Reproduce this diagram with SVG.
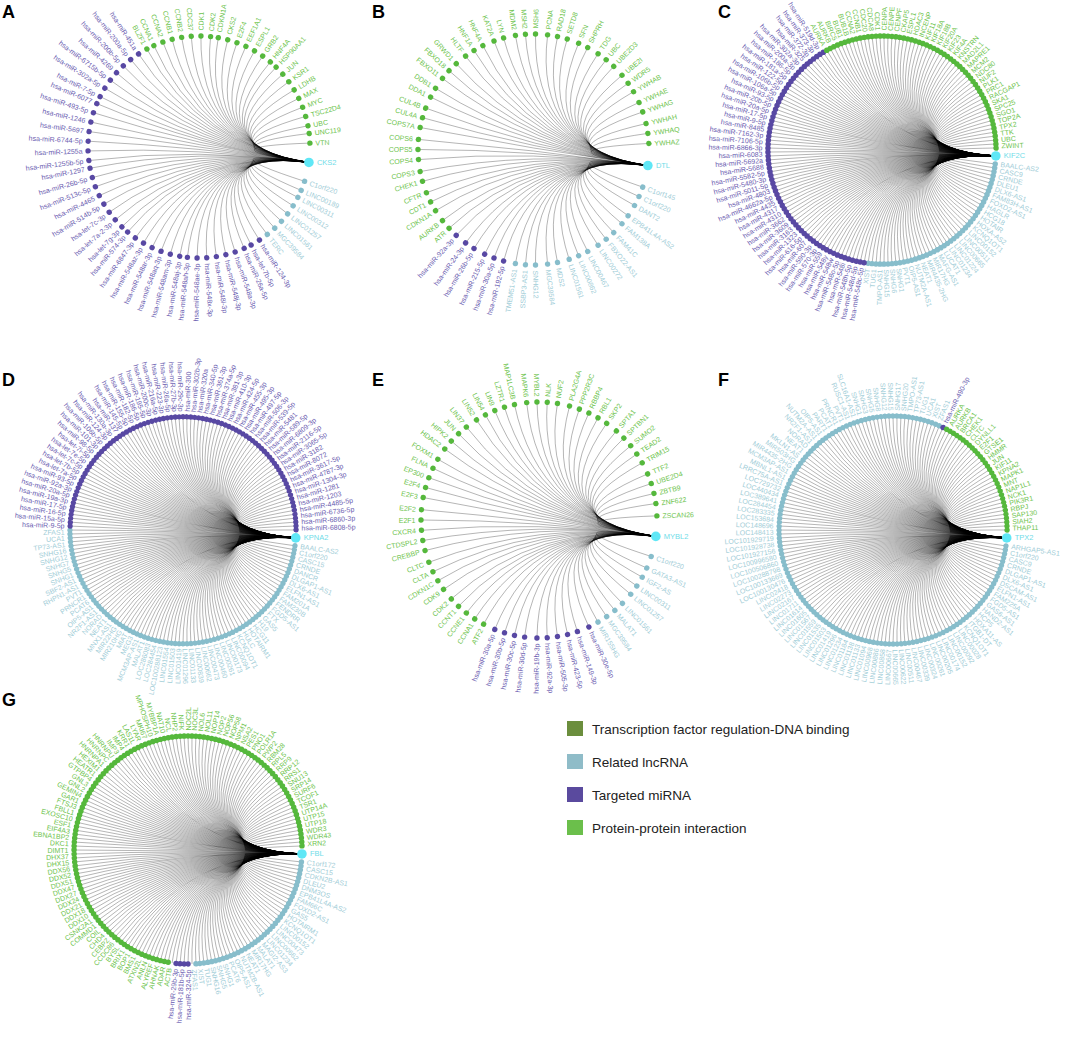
<svg xmlns="http://www.w3.org/2000/svg" width="1065" height="1063" viewBox="0 0 1065 1063">
<style>
text{font-family:"Liberation Sans",Arial,sans-serif;font-size:7px;dominant-baseline:central}
.ed path{fill:none;stroke:#000;stroke-opacity:.42;stroke-width:.7;vector-effect:non-scaling-stroke}
.g circle{fill:#55b83c}.g text{fill:#6cc34b}
.b circle{fill:#87bdcb}.b text{fill:#9fcdd7}
.p circle{fill:#5848a3}.p text{fill:#6a5cb0}
.l text{text-anchor:end}
.hub circle{fill:#5fe7f6}.hub text{fill:#6fdce8;font-size:7.5px}
.let{font-size:18px;font-weight:bold;dominant-baseline:auto;fill:#000}
.rg{fill:none;stroke-linecap:round;stroke-dasharray:0 2;stroke-width:4.8}
.leg text{font-size:13.5px;fill:#222}
</style>
<defs>
<g id="fan" class="ed">
<path d="M100 0Q0 0 99.8 7"/><path d="M100 0Q0 0 99.5 10.5"/><path d="M100 0Q0 0 99 13.9"/><path d="M100 0Q0 0 98.5 17.4"/><path d="M100 0Q0 0 97.8 20.8"/><path d="M100 0Q0 0 97 24.2"/><path d="M100 0Q0 0 96.1 27.6"/><path d="M100 0Q0 0 95.1 30.9"/><path d="M100 0Q0 0 94 34.2"/><path d="M100 0Q0 0 92.7 37.5"/><path d="M100 0Q0 0 91.4 40.7"/><path d="M100 0Q0 0 89.9 43.8"/><path d="M100 0Q0 0 88.3 46.9"/><path d="M100 0Q0 0 86.6 50"/><path d="M100 0Q0 0 84.8 53"/><path d="M100 0Q0 0 82.9 55.9"/><path d="M100 0Q0 0 80.9 58.8"/><path d="M100 0Q0 0 78.8 61.6"/><path d="M100 0Q0 0 76.6 64.3"/><path d="M100 0Q0 0 74.3 66.9"/><path d="M100 0Q0 0 71.9 69.5"/><path d="M100 0Q0 0 69.5 71.9"/><path d="M100 0Q0 0 66.9 74.3"/><path d="M100 0Q0 0 64.3 76.6"/><path d="M100 0Q0 0 61.6 78.8"/><path d="M100 0Q0 0 58.8 80.9"/><path d="M100 0Q0 0 55.9 82.9"/><path d="M100 0Q0 0 53 84.8"/><path d="M100 0Q0 0 50 86.6"/><path d="M100 0Q0 0 46.9 88.3"/><path d="M100 0Q0 0 43.8 89.9"/><path d="M100 0Q0 0 40.7 91.4"/><path d="M100 0Q0 0 37.5 92.7"/><path d="M100 0Q0 0 34.2 94"/><path d="M100 0Q0 0 30.9 95.1"/><path d="M100 0Q0 0 27.6 96.1"/><path d="M100 0Q0 0 24.2 97"/><path d="M100 0Q0 0 20.8 97.8"/><path d="M100 0Q0 0 17.4 98.5"/><path d="M100 0Q0 0 13.9 99"/><path d="M100 0Q0 0 10.5 99.5"/><path d="M100 0Q0 0 7 99.8"/><path d="M100 0Q0 0 3.5 99.9"/><path d="M100 0Q0 0 0 100"/><path d="M100 0Q0 0 -3.5 99.9"/><path d="M100 0Q0 0 -7 99.8"/><path d="M100 0Q0 0 -10.5 99.5"/><path d="M100 0Q0 0 -13.9 99"/><path d="M100 0Q0 0 -17.4 98.5"/><path d="M100 0Q0 0 -20.8 97.8"/><path d="M100 0Q0 0 -24.2 97"/><path d="M100 0Q0 0 -27.6 96.1"/><path d="M100 0Q0 0 -30.9 95.1"/><path d="M100 0Q0 0 -34.2 94"/><path d="M100 0Q0 0 -37.5 92.7"/><path d="M100 0Q0 0 -40.7 91.4"/><path d="M100 0Q0 0 -43.8 89.9"/><path d="M100 0Q0 0 -46.9 88.3"/><path d="M100 0Q0 0 -50 86.6"/><path d="M100 0Q0 0 -53 84.8"/><path d="M100 0Q0 0 -55.9 82.9"/><path d="M100 0Q0 0 -58.8 80.9"/><path d="M100 0Q0 0 -61.6 78.8"/><path d="M100 0Q0 0 -64.3 76.6"/><path d="M100 0Q0 0 -66.9 74.3"/><path d="M100 0Q0 0 -69.5 71.9"/><path d="M100 0Q0 0 -71.9 69.5"/><path d="M100 0Q0 0 -74.3 66.9"/><path d="M100 0Q0 0 -76.6 64.3"/><path d="M100 0Q0 0 -78.8 61.6"/><path d="M100 0Q0 0 -80.9 58.8"/><path d="M100 0Q0 0 -82.9 55.9"/><path d="M100 0Q0 0 -84.8 53"/><path d="M100 0Q0 0 -86.6 50"/><path d="M100 0Q0 0 -88.3 46.9"/><path d="M100 0Q0 0 -89.9 43.8"/><path d="M100 0Q0 0 -91.4 40.7"/><path d="M100 0Q0 0 -92.7 37.5"/><path d="M100 0Q0 0 -94 34.2"/><path d="M100 0Q0 0 -95.1 30.9"/><path d="M100 0Q0 0 -96.1 27.6"/><path d="M100 0Q0 0 -97 24.2"/><path d="M100 0Q0 0 -97.8 20.8"/><path d="M100 0Q0 0 -98.5 17.4"/><path d="M100 0Q0 0 -99 13.9"/><path d="M100 0Q0 0 -99.5 10.5"/><path d="M100 0Q0 0 -99.8 7"/><path d="M100 0Q0 0 -99.9 3.5"/><path d="M100 0Q0 0 -100 0"/>
<path d="M100 0Q0 0 99.8 -7"/><path d="M100 0Q0 0 99.5 -10.5"/><path d="M100 0Q0 0 99 -13.9"/><path d="M100 0Q0 0 98.5 -17.4"/><path d="M100 0Q0 0 97.8 -20.8"/><path d="M100 0Q0 0 97 -24.2"/><path d="M100 0Q0 0 96.1 -27.6"/><path d="M100 0Q0 0 95.1 -30.9"/><path d="M100 0Q0 0 94 -34.2"/><path d="M100 0Q0 0 92.7 -37.5"/><path d="M100 0Q0 0 91.4 -40.7"/><path d="M100 0Q0 0 89.9 -43.8"/><path d="M100 0Q0 0 88.3 -46.9"/><path d="M100 0Q0 0 86.6 -50"/><path d="M100 0Q0 0 84.8 -53"/><path d="M100 0Q0 0 82.9 -55.9"/><path d="M100 0Q0 0 80.9 -58.8"/><path d="M100 0Q0 0 78.8 -61.6"/><path d="M100 0Q0 0 76.6 -64.3"/><path d="M100 0Q0 0 74.3 -66.9"/><path d="M100 0Q0 0 71.9 -69.5"/><path d="M100 0Q0 0 69.5 -71.9"/><path d="M100 0Q0 0 66.9 -74.3"/><path d="M100 0Q0 0 64.3 -76.6"/><path d="M100 0Q0 0 61.6 -78.8"/><path d="M100 0Q0 0 58.8 -80.9"/><path d="M100 0Q0 0 55.9 -82.9"/><path d="M100 0Q0 0 53 -84.8"/><path d="M100 0Q0 0 50 -86.6"/><path d="M100 0Q0 0 46.9 -88.3"/><path d="M100 0Q0 0 43.8 -89.9"/><path d="M100 0Q0 0 40.7 -91.4"/><path d="M100 0Q0 0 37.5 -92.7"/><path d="M100 0Q0 0 34.2 -94"/><path d="M100 0Q0 0 30.9 -95.1"/><path d="M100 0Q0 0 27.6 -96.1"/><path d="M100 0Q0 0 24.2 -97"/><path d="M100 0Q0 0 20.8 -97.8"/><path d="M100 0Q0 0 17.4 -98.5"/><path d="M100 0Q0 0 13.9 -99"/><path d="M100 0Q0 0 10.5 -99.5"/><path d="M100 0Q0 0 7 -99.8"/><path d="M100 0Q0 0 3.5 -99.9"/><path d="M100 0Q0 0 0 -100"/><path d="M100 0Q0 0 -3.5 -99.9"/><path d="M100 0Q0 0 -7 -99.8"/><path d="M100 0Q0 0 -10.5 -99.5"/><path d="M100 0Q0 0 -13.9 -99"/><path d="M100 0Q0 0 -17.4 -98.5"/><path d="M100 0Q0 0 -20.8 -97.8"/><path d="M100 0Q0 0 -24.2 -97"/><path d="M100 0Q0 0 -27.6 -96.1"/><path d="M100 0Q0 0 -30.9 -95.1"/><path d="M100 0Q0 0 -34.2 -94"/><path d="M100 0Q0 0 -37.5 -92.7"/><path d="M100 0Q0 0 -40.7 -91.4"/><path d="M100 0Q0 0 -43.8 -89.9"/><path d="M100 0Q0 0 -46.9 -88.3"/><path d="M100 0Q0 0 -50 -86.6"/><path d="M100 0Q0 0 -53 -84.8"/><path d="M100 0Q0 0 -55.9 -82.9"/><path d="M100 0Q0 0 -58.8 -80.9"/><path d="M100 0Q0 0 -61.6 -78.8"/><path d="M100 0Q0 0 -64.3 -76.6"/><path d="M100 0Q0 0 -66.9 -74.3"/><path d="M100 0Q0 0 -69.5 -71.9"/><path d="M100 0Q0 0 -71.9 -69.5"/><path d="M100 0Q0 0 -74.3 -66.9"/><path d="M100 0Q0 0 -76.6 -64.3"/><path d="M100 0Q0 0 -78.8 -61.6"/><path d="M100 0Q0 0 -80.9 -58.8"/><path d="M100 0Q0 0 -82.9 -55.9"/><path d="M100 0Q0 0 -84.8 -53"/><path d="M100 0Q0 0 -86.6 -50"/><path d="M100 0Q0 0 -88.3 -46.9"/><path d="M100 0Q0 0 -89.9 -43.8"/><path d="M100 0Q0 0 -91.4 -40.7"/><path d="M100 0Q0 0 -92.7 -37.5"/><path d="M100 0Q0 0 -94 -34.2"/><path d="M100 0Q0 0 -95.1 -30.9"/><path d="M100 0Q0 0 -96.1 -27.6"/><path d="M100 0Q0 0 -97 -24.2"/><path d="M100 0Q0 0 -97.8 -20.8"/><path d="M100 0Q0 0 -98.5 -17.4"/><path d="M100 0Q0 0 -99 -13.9"/><path d="M100 0Q0 0 -99.5 -10.5"/><path d="M100 0Q0 0 -99.8 -7"/><path d="M100 0Q0 0 -99.9 -3.5"/>
</g>
</defs>
<rect width="1065" height="1063" fill="#fff"/>

<g id="letters">
<text x="2" y="18" class="let">A</text><text x="372" y="18" class="let">B</text><text x="718" y="18" class="let">C</text>
<text x="2" y="386" class="let">D</text><text x="372" y="386" class="let">E</text><text x="718" y="386" class="let">F</text>
<text x="2" y="706" class="let">G</text>
</g>

<!-- Panel A -->
<g id="panelA" transform="translate(199,147)rotate(8)">
<g id="A-edges" class="ed" transform="scale(1.11)">
<path d="M100 0Q0 0 98.5 17.4"/><path d="M100 0Q0 0 96.6 25.9"/><path d="M100 0Q0 0 94.6 32.6"/><path d="M100 0Q0 0 91.4 40.7"/><path d="M100 0Q0 0 87.5 48.5"/><path d="M100 0Q0 0 82.9 55.9"/><path d="M100 0Q0 0 77.7 62.9"/><path d="M100 0Q0 0 71.9 69.5"/><path d="M100 0Q0 0 65.6 75.5"/><path d="M100 0Q0 0 58.8 80.9"/><path d="M100 0Q0 0 53 84.8"/><path d="M100 0Q0 0 45.4 89.1"/><path d="M100 0Q0 0 37.5 92.7"/><path d="M100 0Q0 0 29.2 95.6"/><path d="M100 0Q0 0 20.8 97.8"/><path d="M100 0Q0 0 12.2 99.3"/><path d="M100 0Q0 0 3.5 99.9"/><path d="M100 0Q0 0 -3.5 99.9"/><path d="M100 0Q0 0 -12.2 99.3"/><path d="M100 0Q0 0 -20.8 97.8"/><path d="M100 0Q0 0 -29.2 95.6"/><path d="M100 0Q0 0 -37.5 92.7"/><path d="M100 0Q0 0 -45.4 89.1"/><path d="M100 0Q0 0 -53 84.8"/><path d="M100 0Q0 0 -58.8 80.9"/><path d="M100 0Q0 0 -65.6 75.5"/><path d="M100 0Q0 0 -71.9 69.5"/><path d="M100 0Q0 0 -77.7 62.9"/><path d="M100 0Q0 0 -82.9 55.9"/><path d="M100 0Q0 0 -87.5 48.5"/><path d="M100 0Q0 0 -91.4 40.7"/><path d="M100 0Q0 0 -94.6 32.6"/><path d="M100 0Q0 0 -96.6 25.9"/><path d="M100 0Q0 0 -98.5 17.4"/><path d="M100 0Q0 0 -99.6 8.7"/><path d="M100 0Q0 0 -100 0"/><path d="M100 0Q0 0 -99.6 -8.7"/><path d="M100 0Q0 0 -98.5 -17.4"/><path d="M100 0Q0 0 -96.6 -25.9"/><path d="M100 0Q0 0 -94.6 -32.6"/><path d="M100 0Q0 0 -91.4 -40.7"/><path d="M100 0Q0 0 -87.5 -48.5"/><path d="M100 0Q0 0 -82.9 -55.9"/><path d="M100 0Q0 0 -77.7 -62.9"/><path d="M100 0Q0 0 -71.9 -69.5"/><path d="M100 0Q0 0 -65.6 -75.5"/><path d="M100 0Q0 0 -58.8 -80.9"/><path d="M100 0Q0 0 -53 -84.8"/><path d="M100 0Q0 0 -45.4 -89.1"/><path d="M100 0Q0 0 -37.5 -92.7"/><path d="M100 0Q0 0 -29.2 -95.6"/><path d="M100 0Q0 0 -20.8 -97.8"/><path d="M100 0Q0 0 -12.2 -99.3"/><path d="M100 0Q0 0 -3.5 -99.9"/><path d="M100 0Q0 0 3.5 -99.9"/><path d="M100 0Q0 0 12.2 -99.3"/><path d="M100 0Q0 0 20.8 -97.8"/><path d="M100 0Q0 0 29.2 -95.6"/><path d="M100 0Q0 0 37.5 -92.7"/><path d="M100 0Q0 0 45.4 -89.1"/><path d="M100 0Q0 0 53 -84.8"/><path d="M100 0Q0 0 58.8 -80.9"/><path d="M100 0Q0 0 65.6 -75.5"/><path d="M100 0Q0 0 71.9 -69.5"/><path d="M100 0Q0 0 77.7 -62.9"/><path d="M100 0Q0 0 82.9 -55.9"/><path d="M100 0Q0 0 87.5 -48.5"/><path d="M100 0Q0 0 91.4 -40.7"/><path d="M100 0Q0 0 94.6 -32.6"/><path d="M100 0Q0 0 96.6 -25.9"/><path d="M100 0Q0 0 98.5 -17.4"/>
</g>
<g id="A1" class="b" transform="rotate(10)translate(111)"><circle r="2.7"/><text x="5.5">C1orf220</text></g>
<g id="A2" class="b" transform="rotate(15)translate(111)"><circle r="2.7"/><text x="5.5">LINC00189</text></g>
<g id="A3" class="b" transform="rotate(19)translate(111)"><circle r="2.7"/><text x="5.5">LINC00311</text></g>
<g id="A4" class="b" transform="rotate(24)translate(111)"><circle r="2.7"/><text x="5.5">LINC00312</text></g>
<g id="A5" class="b" transform="rotate(29)translate(111)"><circle r="2.7"/><text x="5.5">LINC01257</text></g>
<g id="A6" class="b" transform="rotate(34)translate(111)"><circle r="2.7"/><text x="5.5">LINC01561</text></g>
<g id="A7" class="b" transform="rotate(39)translate(111)"><circle r="2.7"/><text x="5.5">MGC39584</text></g>
<g id="A8" class="b" transform="rotate(44)translate(111)"><circle r="2.7"/><text x="5.5">TERC</text></g>
<g id="A9" class="p" transform="rotate(49)translate(111)"><circle r="2.7"/><text x="5.5">hsa-miR-124-3p</text></g>
<g id="A10" class="p" transform="rotate(54)translate(111)"><circle r="2.7"/><text x="5.5">hsa-let-7b-5p</text></g>
<g id="A11" class="p" transform="rotate(58)translate(111)"><circle r="2.7"/><text x="5.5">hsa-miR-26a-5p</text></g>
<g id="A12" class="p" transform="rotate(63)translate(111)"><circle r="2.7"/><text x="5.5">hsa-miR-548a-3p</text></g>
<g id="A13" class="p" transform="rotate(68)translate(111)"><circle r="2.7"/><text x="5.5">hsa-miR-548j-3p</text></g>
<g id="A14" class="p" transform="rotate(73)translate(111)"><circle r="2.7"/><text x="5.5">hsa-miR-548l-3p</text></g>
<g id="A15" class="p" transform="rotate(78)translate(111)"><circle r="2.7"/><text x="5.5">hsa-miR-548x-3p</text></g>
<g id="A16" class="p l" transform="rotate(-97)translate(-111)"><circle r="2.7"/><text x="-5.5">hsa-miR-548ae-3p</text></g>
<g id="A17" class="p l" transform="rotate(-92)translate(-111)"><circle r="2.7"/><text x="-5.5">hsa-miR-548ah-3p</text></g>
<g id="A18" class="p l" transform="rotate(-88)translate(-111)"><circle r="2.7"/><text x="-5.5">hsa-miR-548aj-3p</text></g>
<g id="A19" class="p l" transform="rotate(-83)translate(-111)"><circle r="2.7"/><text x="-5.5">hsa-miR-548am-3p</text></g>
<g id="A20" class="p l" transform="rotate(-78)translate(-111)"><circle r="2.7"/><text x="-5.5">hsa-miR-548aq-3p</text></g>
<g id="A21" class="p l" transform="rotate(-73)translate(-111)"><circle r="2.7"/><text x="-5.5">hsa-miR-548ar-3p</text></g>
<g id="A22" class="p l" transform="rotate(-68)translate(-111)"><circle r="2.7"/><text x="-5.5">hsa-miR-548az-3p</text></g>
<g id="A23" class="p l" transform="rotate(-63)translate(-111)"><circle r="2.7"/><text x="-5.5">hsa-miR-6847-3p</text></g>
<g id="A24" class="p l" transform="rotate(-58)translate(-111)"><circle r="2.7"/><text x="-5.5">hsa-miR-574-3p</text></g>
<g id="A25" class="p l" transform="rotate(-54)translate(-111)"><circle r="2.7"/><text x="-5.5">hsa-let-7g-3p</text></g>
<g id="A26" class="p l" transform="rotate(-49)translate(-111)"><circle r="2.7"/><text x="-5.5">hsa-let-7a-2-3p</text></g>
<g id="A27" class="p l" transform="rotate(-44)translate(-111)"><circle r="2.7"/><text x="-5.5">hsa-let-7c-3p</text></g>
<g id="A28" class="p l" transform="rotate(-39)translate(-111)"><circle r="2.7"/><text x="-5.5">hsa-miR-514b-5p</text></g>
<g id="A29" class="p l" transform="rotate(-34)translate(-111)"><circle r="2.7"/><text x="-5.5">hsa-miR-4465</text></g>
<g id="A30" class="p l" transform="rotate(-29)translate(-111)"><circle r="2.7"/><text x="-5.5">hsa-miR-513c-5p</text></g>
<g id="A31" class="p l" transform="rotate(-24)translate(-111)"><circle r="2.7"/><text x="-5.5">hsa-miR-26b-5p</text></g>
<g id="A32" class="p l" transform="rotate(-19)translate(-111)"><circle r="2.7"/><text x="-5.5">hsa-miR-1297</text></g>
<g id="A33" class="p l" transform="rotate(-15)translate(-111)"><circle r="2.7"/><text x="-5.5">hsa-miR-1255b-5p</text></g>
<g id="A34" class="p l" transform="rotate(-10)translate(-111)"><circle r="2.7"/><text x="-5.5">hsa-miR-1255a</text></g>
<g id="A35" class="p l" transform="rotate(-5)translate(-111)"><circle r="2.7"/><text x="-5.5">hsa-miR-6744-5p</text></g>
<g id="A36" class="p l" transform="rotate(0)translate(-111)"><circle r="2.7"/><text x="-5.5">hsa-miR-5697</text></g>
<g id="A37" class="p l" transform="rotate(5)translate(-111)"><circle r="2.7"/><text x="-5.5">hsa-miR-1246</text></g>
<g id="A38" class="p l" transform="rotate(10)translate(-111)"><circle r="2.7"/><text x="-5.5">hsa-miR-493-5p</text></g>
<g id="A39" class="p l" transform="rotate(15)translate(-111)"><circle r="2.7"/><text x="-5.5">hsa-miR-6077</text></g>
<g id="A40" class="p l" transform="rotate(19)translate(-111)"><circle r="2.7"/><text x="-5.5">hsa-miR-7-5p</text></g>
<g id="A41" class="p l" transform="rotate(24)translate(-111)"><circle r="2.7"/><text x="-5.5">hsa-miR-302a-5p</text></g>
<g id="A42" class="p l" transform="rotate(29)translate(-111)"><circle r="2.7"/><text x="-5.5">hsa-miR-6715b-5p</text></g>
<g id="A43" class="p l" transform="rotate(34)translate(-111)"><circle r="2.7"/><text x="-5.5">hsa-miR-4269</text></g>
<g id="A44" class="p l" transform="rotate(39)translate(-111)"><circle r="2.7"/><text x="-5.5">hsa-miR-200b-5p</text></g>
<g id="A45" class="p l" transform="rotate(44)translate(-111)"><circle r="2.7"/><text x="-5.5">hsa-miR-200a-5p</text></g>
<g id="A46" class="p l" transform="rotate(49)translate(-111)"><circle r="2.7"/><text x="-5.5">hsa-miR-451a</text></g>
<g id="A47" class="g l" transform="rotate(54)translate(-111)"><circle r="2.7"/><text x="-5.5">BLZF1</text></g>
<g id="A48" class="g l" transform="rotate(58)translate(-111)"><circle r="2.7"/><text x="-5.5">CCNA1</text></g>
<g id="A49" class="g l" transform="rotate(63)translate(-111)"><circle r="2.7"/><text x="-5.5">CCNA2</text></g>
<g id="A50" class="g l" transform="rotate(68)translate(-111)"><circle r="2.7"/><text x="-5.5">CCNB1</text></g>
<g id="A51" class="g l" transform="rotate(73)translate(-111)"><circle r="2.7"/><text x="-5.5">CCNB2</text></g>
<g id="A52" class="g l" transform="rotate(78)translate(-111)"><circle r="2.7"/><text x="-5.5">CDC37</text></g>
<g id="A53" class="g" transform="rotate(-97)translate(111)"><circle r="2.7"/><text x="5.5">CDK1</text></g>
<g id="A54" class="g" transform="rotate(-92)translate(111)"><circle r="2.7"/><text x="5.5">CDK2</text></g>
<g id="A55" class="g" transform="rotate(-88)translate(111)"><circle r="2.7"/><text x="5.5">CDKN1A</text></g>
<g id="A56" class="g" transform="rotate(-83)translate(111)"><circle r="2.7"/><text x="5.5">CKS2</text></g>
<g id="A57" class="g" transform="rotate(-78)translate(111)"><circle r="2.7"/><text x="5.5">E2F4</text></g>
<g id="A58" class="g" transform="rotate(-73)translate(111)"><circle r="2.7"/><text x="5.5">EEF1A1</text></g>
<g id="A59" class="g" transform="rotate(-68)translate(111)"><circle r="2.7"/><text x="5.5">ESPL1</text></g>
<g id="A60" class="g" transform="rotate(-63)translate(111)"><circle r="2.7"/><text x="5.5">GRB2</text></g>
<g id="A61" class="g" transform="rotate(-58)translate(111)"><circle r="2.7"/><text x="5.5">HNF4A</text></g>
<g id="A62" class="g" transform="rotate(-54)translate(111)"><circle r="2.7"/><text x="5.5">HSP90AA1</text></g>
<g id="A63" class="g" transform="rotate(-49)translate(111)"><circle r="2.7"/><text x="5.5">JUN</text></g>
<g id="A64" class="g" transform="rotate(-44)translate(111)"><circle r="2.7"/><text x="5.5">KSR1</text></g>
<g id="A65" class="g" transform="rotate(-39)translate(111)"><circle r="2.7"/><text x="5.5">LDHB</text></g>
<g id="A66" class="g" transform="rotate(-34)translate(111)"><circle r="2.7"/><text x="5.5">MAX</text></g>
<g id="A67" class="g" transform="rotate(-29)translate(111)"><circle r="2.7"/><text x="5.5">MYC</text></g>
<g id="A68" class="g" transform="rotate(-24)translate(111)"><circle r="2.7"/><text x="5.5">TSC22D4</text></g>
<g id="A69" class="g" transform="rotate(-19)translate(111)"><circle r="2.7"/><text x="5.5">UBC</text></g>
<g id="A70" class="g" transform="rotate(-15)translate(111)"><circle r="2.7"/><text x="5.5">UNC119</text></g>
<g id="A71" class="g" transform="rotate(-10)translate(111)"><circle r="2.7"/><text x="5.5">VTN</text></g>
<g id="A-hub" class="hub" transform="translate(111)rotate(-8)"><circle r="4.8"/><text x="8">CKS2</text></g>
</g>

<!-- Panel B -->
<g id="panelB" transform="translate(533.5,149.5)rotate(8)">
<g id="B-edges" class="ed" transform="scale(1.155)">
<path d="M100 0Q0 0 98.2 19.1"/><path d="M100 0Q0 0 96.1 27.6"/><path d="M100 0Q0 0 93.4 35.8"/><path d="M100 0Q0 0 89.1 45.4"/><path d="M100 0Q0 0 84.8 53"/><path d="M100 0Q0 0 78.8 61.6"/><path d="M100 0Q0 0 73.1 68.2"/><path d="M100 0Q0 0 66.9 74.3"/><path d="M100 0Q0 0 58.8 80.9"/><path d="M100 0Q0 0 51.5 85.7"/><path d="M100 0Q0 0 43.8 89.9"/><path d="M100 0Q0 0 34.2 94"/><path d="M100 0Q0 0 25.9 96.6"/><path d="M100 0Q0 0 15.6 98.8"/><path d="M100 0Q0 0 7 99.8"/><path d="M100 0Q0 0 -1.7 100"/><path d="M100 0Q0 0 -12.2 99.3"/><path d="M100 0Q0 0 -20.8 97.8"/><path d="M100 0Q0 0 -29.2 95.6"/><path d="M100 0Q0 0 -39.1 92.1"/><path d="M100 0Q0 0 -46.9 88.3"/><path d="M100 0Q0 0 -55.9 82.9"/><path d="M100 0Q0 0 -62.9 77.7"/><path d="M100 0Q0 0 -69.5 71.9"/><path d="M100 0Q0 0 -76.6 64.3"/><path d="M100 0Q0 0 -81.9 57.4"/><path d="M100 0Q0 0 -86.6 50"/><path d="M100 0Q0 0 -91.4 40.7"/><path d="M100 0Q0 0 -94.6 32.6"/><path d="M100 0Q0 0 -97.4 22.5"/><path d="M100 0Q0 0 -99 13.9"/><path d="M100 0Q0 0 -99.9 5.2"/><path d="M100 0Q0 0 -99.9 -5.2"/><path d="M100 0Q0 0 -99 -13.9"/><path d="M100 0Q0 0 -97.4 -22.5"/><path d="M100 0Q0 0 -94.6 -32.6"/><path d="M100 0Q0 0 -91.4 -40.7"/><path d="M100 0Q0 0 -86.6 -50"/><path d="M100 0Q0 0 -81.9 -57.4"/><path d="M100 0Q0 0 -76.6 -64.3"/><path d="M100 0Q0 0 -69.5 -71.9"/><path d="M100 0Q0 0 -62.9 -77.7"/><path d="M100 0Q0 0 -55.9 -82.9"/><path d="M100 0Q0 0 -46.9 -88.3"/><path d="M100 0Q0 0 -39.1 -92.1"/><path d="M100 0Q0 0 -29.2 -95.6"/><path d="M100 0Q0 0 -20.8 -97.8"/><path d="M100 0Q0 0 -12.2 -99.3"/><path d="M100 0Q0 0 -1.7 -100"/><path d="M100 0Q0 0 7 -99.8"/><path d="M100 0Q0 0 15.6 -98.8"/><path d="M100 0Q0 0 25.9 -96.6"/><path d="M100 0Q0 0 34.2 -94"/><path d="M100 0Q0 0 43.8 -89.9"/><path d="M100 0Q0 0 51.5 -85.7"/><path d="M100 0Q0 0 58.8 -80.9"/><path d="M100 0Q0 0 66.9 -74.3"/><path d="M100 0Q0 0 73.1 -68.2"/><path d="M100 0Q0 0 78.8 -61.6"/><path d="M100 0Q0 0 84.8 -53"/><path d="M100 0Q0 0 89.1 -45.4"/><path d="M100 0Q0 0 93.4 -35.8"/><path d="M100 0Q0 0 96.1 -27.6"/><path d="M100 0Q0 0 98.2 -19.1"/>
</g>
<g id="B1" class="b" transform="rotate(11)translate(115.5)"><circle r="2.7"/><text x="5.5">C1orf145</text></g>
<g id="B2" class="b" transform="rotate(16)translate(115.5)"><circle r="2.7"/><text x="5.5">C1orf220</text></g>
<g id="B3" class="b" transform="rotate(21)translate(115.5)"><circle r="2.7"/><text x="5.5">DANT2</text></g>
<g id="B4" class="b" transform="rotate(27)translate(115.5)"><circle r="2.7"/><text x="5.5">EPB41L4A-AS2</text></g>
<g id="B5" class="b" transform="rotate(32)translate(115.5)"><circle r="2.7"/><text x="5.5">FAM138A</text></g>
<g id="B6" class="b" transform="rotate(38)translate(115.5)"><circle r="2.7"/><text x="5.5">FAM41C</text></g>
<g id="B7" class="b" transform="rotate(43)translate(115.5)"><circle r="2.7"/><text x="5.5">FBXO22-AS1</text></g>
<g id="B8" class="b" transform="rotate(48)translate(115.5)"><circle r="2.7"/><text x="5.5">LINC00272</text></g>
<g id="B9" class="b" transform="rotate(54)translate(115.5)"><circle r="2.7"/><text x="5.5">LINC00467</text></g>
<g id="B10" class="b" transform="rotate(59)translate(115.5)"><circle r="2.7"/><text x="5.5">LINC00862</text></g>
<g id="B11" class="b" transform="rotate(64)translate(115.5)"><circle r="2.7"/><text x="5.5">LINC01561</text></g>
<g id="B12" class="b" transform="rotate(70)translate(115.5)"><circle r="2.7"/><text x="5.5">MDS2</text></g>
<g id="B13" class="b" transform="rotate(75)translate(115.5)"><circle r="2.7"/><text x="5.5">MGC39584</text></g>
<g id="B14" class="b" transform="rotate(81)translate(115.5)"><circle r="2.7"/><text x="5.5">SNHG12</text></g>
<g id="B15" class="b l" transform="rotate(-94)translate(-115.5)"><circle r="2.7"/><text x="-5.5">SSBP3-AS1</text></g>
<g id="B16" class="b l" transform="rotate(-89)translate(-115.5)"><circle r="2.7"/><text x="-5.5">TMEM51-AS1</text></g>
<g id="B17" class="p l" transform="rotate(-83)translate(-115.5)"><circle r="2.7"/><text x="-5.5">hsa-miR-192-5p</text></g>
<g id="B18" class="p l" transform="rotate(-78)translate(-115.5)"><circle r="2.7"/><text x="-5.5">hsa-miR-30a-5p</text></g>
<g id="B19" class="p l" transform="rotate(-73)translate(-115.5)"><circle r="2.7"/><text x="-5.5">hsa-miR-215-5p</text></g>
<g id="B20" class="p l" transform="rotate(-67)translate(-115.5)"><circle r="2.7"/><text x="-5.5">hsa-miR-26b-5p</text></g>
<g id="B21" class="p l" transform="rotate(-62)translate(-115.5)"><circle r="2.7"/><text x="-5.5">hsa-miR-24-3p</text></g>
<g id="B22" class="p l" transform="rotate(-56)translate(-115.5)"><circle r="2.7"/><text x="-5.5">hsa-miR-92a-3p</text></g>
<g id="B23" class="g l" transform="rotate(-51)translate(-115.5)"><circle r="2.7"/><text x="-5.5">ATR</text></g>
<g id="B24" class="g l" transform="rotate(-46)translate(-115.5)"><circle r="2.7"/><text x="-5.5">AURKB</text></g>
<g id="B25" class="g l" transform="rotate(-40)translate(-115.5)"><circle r="2.7"/><text x="-5.5">CDKN1A</text></g>
<g id="B26" class="g l" transform="rotate(-35)translate(-115.5)"><circle r="2.7"/><text x="-5.5">CDT1</text></g>
<g id="B27" class="g l" transform="rotate(-30)translate(-115.5)"><circle r="2.7"/><text x="-5.5">CFTR</text></g>
<g id="B28" class="g l" transform="rotate(-24)translate(-115.5)"><circle r="2.7"/><text x="-5.5">CHEK1</text></g>
<g id="B29" class="g l" transform="rotate(-19)translate(-115.5)"><circle r="2.7"/><text x="-5.5">COPS3</text></g>
<g id="B30" class="g l" transform="rotate(-13)translate(-115.5)"><circle r="2.7"/><text x="-5.5">COPS4</text></g>
<g id="B31" class="g l" transform="rotate(-8)translate(-115.5)"><circle r="2.7"/><text x="-5.5">COPS5</text></g>
<g id="B32" class="g l" transform="rotate(-3)translate(-115.5)"><circle r="2.7"/><text x="-5.5">COPS6</text></g>
<g id="B33" class="g l" transform="rotate(3)translate(-115.5)"><circle r="2.7"/><text x="-5.5">COPS7A</text></g>
<g id="B34" class="g l" transform="rotate(8)translate(-115.5)"><circle r="2.7"/><text x="-5.5">CUL4A</text></g>
<g id="B35" class="g l" transform="rotate(13)translate(-115.5)"><circle r="2.7"/><text x="-5.5">CUL4B</text></g>
<g id="B36" class="g l" transform="rotate(19)translate(-115.5)"><circle r="2.7"/><text x="-5.5">DDA1</text></g>
<g id="B37" class="g l" transform="rotate(24)translate(-115.5)"><circle r="2.7"/><text x="-5.5">DDB1</text></g>
<g id="B38" class="g l" transform="rotate(30)translate(-115.5)"><circle r="2.7"/><text x="-5.5">FBXO11</text></g>
<g id="B39" class="g l" transform="rotate(35)translate(-115.5)"><circle r="2.7"/><text x="-5.5">FBXO18</text></g>
<g id="B40" class="g l" transform="rotate(40)translate(-115.5)"><circle r="2.7"/><text x="-5.5">GRWD1</text></g>
<g id="B41" class="g l" transform="rotate(46)translate(-115.5)"><circle r="2.7"/><text x="-5.5">HLTF</text></g>
<g id="B42" class="g l" transform="rotate(51)translate(-115.5)"><circle r="2.7"/><text x="-5.5">HNF1A</text></g>
<g id="B43" class="g l" transform="rotate(56)translate(-115.5)"><circle r="2.7"/><text x="-5.5">HNF4A</text></g>
<g id="B44" class="g l" transform="rotate(62)translate(-115.5)"><circle r="2.7"/><text x="-5.5">KAT2A</text></g>
<g id="B45" class="g l" transform="rotate(67)translate(-115.5)"><circle r="2.7"/><text x="-5.5">LYN</text></g>
<g id="B46" class="g l" transform="rotate(73)translate(-115.5)"><circle r="2.7"/><text x="-5.5">MDM2</text></g>
<g id="B47" class="g l" transform="rotate(78)translate(-115.5)"><circle r="2.7"/><text x="-5.5">MSH2</text></g>
<g id="B48" class="g" transform="rotate(-97)translate(115.5)"><circle r="2.7"/><text x="5.5">MSH6</text></g>
<g id="B49" class="g" transform="rotate(-91)translate(115.5)"><circle r="2.7"/><text x="5.5">PCNA</text></g>
<g id="B50" class="g" transform="rotate(-86)translate(115.5)"><circle r="2.7"/><text x="5.5">RAD18</text></g>
<g id="B51" class="g" transform="rotate(-81)translate(115.5)"><circle r="2.7"/><text x="5.5">SETD8</text></g>
<g id="B52" class="g" transform="rotate(-75)translate(115.5)"><circle r="2.7"/><text x="5.5">SFN</text></g>
<g id="B53" class="g" transform="rotate(-70)translate(115.5)"><circle r="2.7"/><text x="5.5">SHPRH</text></g>
<g id="B54" class="g" transform="rotate(-64)translate(115.5)"><circle r="2.7"/><text x="5.5">TDG</text></g>
<g id="B55" class="g" transform="rotate(-59)translate(115.5)"><circle r="2.7"/><text x="5.5">UBC</text></g>
<g id="B56" class="g" transform="rotate(-54)translate(115.5)"><circle r="2.7"/><text x="5.5">UBE2D3</text></g>
<g id="B57" class="g" transform="rotate(-48)translate(115.5)"><circle r="2.7"/><text x="5.5">UBE2I</text></g>
<g id="B58" class="g" transform="rotate(-43)translate(115.5)"><circle r="2.7"/><text x="5.5">WDR5</text></g>
<g id="B59" class="g" transform="rotate(-38)translate(115.5)"><circle r="2.7"/><text x="5.5">YWHAB</text></g>
<g id="B60" class="g" transform="rotate(-32)translate(115.5)"><circle r="2.7"/><text x="5.5">YWHAE</text></g>
<g id="B61" class="g" transform="rotate(-27)translate(115.5)"><circle r="2.7"/><text x="5.5">YWHAG</text></g>
<g id="B62" class="g" transform="rotate(-21)translate(115.5)"><circle r="2.7"/><text x="5.5">YWHAH</text></g>
<g id="B63" class="g" transform="rotate(-16)translate(115.5)"><circle r="2.7"/><text x="5.5">YWHAQ</text></g>
<g id="B64" class="g" transform="rotate(-11)translate(115.5)"><circle r="2.7"/><text x="5.5">YWHAZ</text></g>
<g id="B-hub" class="hub" transform="translate(115.5)rotate(-8)"><circle r="4.8"/><text x="8">DTL</text></g>
</g>

<!-- Panel E -->
<g id="panelE" transform="translate(539,520)rotate(8)">
<g id="E-edges" class="ed" transform="scale(1.18)">
<path d="M100 0Q0 0 98.5 17.4"/><path d="M100 0Q0 0 96.1 27.6"/><path d="M100 0Q0 0 93.4 35.8"/><path d="M100 0Q0 0 89.9 43.8"/><path d="M100 0Q0 0 85.7 51.5"/><path d="M100 0Q0 0 79.9 60.2"/><path d="M100 0Q0 0 74.3 66.9"/><path d="M100 0Q0 0 68.2 73.1"/><path d="M100 0Q0 0 61.6 78.8"/><path d="M100 0Q0 0 54.5 83.9"/><path d="M100 0Q0 0 45.4 89.1"/><path d="M100 0Q0 0 37.5 92.7"/><path d="M100 0Q0 0 29.2 95.6"/><path d="M100 0Q0 0 20.8 97.8"/><path d="M100 0Q0 0 12.2 99.3"/><path d="M100 0Q0 0 1.7 100"/><path d="M100 0Q0 0 -7 99.8"/><path d="M100 0Q0 0 -15.6 98.8"/><path d="M100 0Q0 0 -24.2 97"/><path d="M100 0Q0 0 -34.2 94"/><path d="M100 0Q0 0 -42.3 90.6"/><path d="M100 0Q0 0 -50 86.6"/><path d="M100 0Q0 0 -57.4 81.9"/><path d="M100 0Q0 0 -64.3 76.6"/><path d="M100 0Q0 0 -71.9 69.5"/><path d="M100 0Q0 0 -77.7 62.9"/><path d="M100 0Q0 0 -82.9 55.9"/><path d="M100 0Q0 0 -87.5 48.5"/><path d="M100 0Q0 0 -92.1 39.1"/><path d="M100 0Q0 0 -95.1 30.9"/><path d="M100 0Q0 0 -97.4 22.5"/><path d="M100 0Q0 0 -99 13.9"/><path d="M100 0Q0 0 -99.9 5.2"/><path d="M100 0Q0 0 -99.9 -5.2"/><path d="M100 0Q0 0 -99 -13.9"/><path d="M100 0Q0 0 -97.4 -22.5"/><path d="M100 0Q0 0 -95.1 -30.9"/><path d="M100 0Q0 0 -92.1 -39.1"/><path d="M100 0Q0 0 -87.5 -48.5"/><path d="M100 0Q0 0 -82.9 -55.9"/><path d="M100 0Q0 0 -77.7 -62.9"/><path d="M100 0Q0 0 -71.9 -69.5"/><path d="M100 0Q0 0 -64.3 -76.6"/><path d="M100 0Q0 0 -57.4 -81.9"/><path d="M100 0Q0 0 -50 -86.6"/><path d="M100 0Q0 0 -42.3 -90.6"/><path d="M100 0Q0 0 -34.2 -94"/><path d="M100 0Q0 0 -24.2 -97"/><path d="M100 0Q0 0 -15.6 -98.8"/><path d="M100 0Q0 0 -7 -99.8"/><path d="M100 0Q0 0 1.7 -100"/><path d="M100 0Q0 0 12.2 -99.3"/><path d="M100 0Q0 0 20.8 -97.8"/><path d="M100 0Q0 0 29.2 -95.6"/><path d="M100 0Q0 0 37.5 -92.7"/><path d="M100 0Q0 0 45.4 -89.1"/><path d="M100 0Q0 0 54.5 -83.9"/><path d="M100 0Q0 0 61.6 -78.8"/><path d="M100 0Q0 0 68.2 -73.1"/><path d="M100 0Q0 0 74.3 -66.9"/><path d="M100 0Q0 0 79.9 -60.2"/><path d="M100 0Q0 0 85.7 -51.5"/><path d="M100 0Q0 0 89.9 -43.8"/><path d="M100 0Q0 0 93.4 -35.8"/><path d="M100 0Q0 0 96.1 -27.6"/><path d="M100 0Q0 0 98.5 -17.4"/>
</g>
<g id="E1" class="b" transform="rotate(10)translate(118)"><circle r="2.7"/><text x="5.5">C1orf220</text></g>
<g id="E2" class="b" transform="rotate(16)translate(118)"><circle r="2.7"/><text x="5.5">GATA3-AS1</text></g>
<g id="E3" class="b" transform="rotate(21)translate(118)"><circle r="2.7"/><text x="5.5">IGF2-AS</text></g>
<g id="E4" class="b" transform="rotate(26)translate(118)"><circle r="2.7"/><text x="5.5">LINC00311</text></g>
<g id="E5" class="b" transform="rotate(31)translate(118)"><circle r="2.7"/><text x="5.5">LINC01257</text></g>
<g id="E6" class="b" transform="rotate(37)translate(118)"><circle r="2.7"/><text x="5.5">LINC01561</text></g>
<g id="E7" class="b" transform="rotate(42)translate(118)"><circle r="2.7"/><text x="5.5">MALAT1</text></g>
<g id="E8" class="b" transform="rotate(47)translate(118)"><circle r="2.7"/><text x="5.5">MGC39584</text></g>
<g id="E9" class="b" transform="rotate(52)translate(118)"><circle r="2.7"/><text x="5.5">MIR155HG</text></g>
<g id="E10" class="p" transform="rotate(57)translate(118)"><circle r="2.7"/><text x="5.5">hsa-miR-30e-5p</text></g>
<g id="E11" class="p" transform="rotate(63)translate(118)"><circle r="2.7"/><text x="5.5">hsa-miR-149-3p</text></g>
<g id="E12" class="p" transform="rotate(68)translate(118)"><circle r="2.7"/><text x="5.5">hsa-miR-423-5p</text></g>
<g id="E13" class="p" transform="rotate(73)translate(118)"><circle r="2.7"/><text x="5.5">hsa-miR-505-3p</text></g>
<g id="E14" class="p" transform="rotate(78)translate(118)"><circle r="2.7"/><text x="5.5">hsa-miR-92a-3p</text></g>
<g id="E15" class="p l" transform="rotate(-97)translate(-118)"><circle r="2.7"/><text x="-5.5">hsa-miR-19b-3p</text></g>
<g id="E16" class="p l" transform="rotate(-91)translate(-118)"><circle r="2.7"/><text x="-5.5">hsa-miR-30d-5p</text></g>
<g id="E17" class="p l" transform="rotate(-86)translate(-118)"><circle r="2.7"/><text x="-5.5">hsa-miR-30c-5p</text></g>
<g id="E18" class="p l" transform="rotate(-81)translate(-118)"><circle r="2.7"/><text x="-5.5">hsa-miR-30b-5p</text></g>
<g id="E19" class="p l" transform="rotate(-76)translate(-118)"><circle r="2.7"/><text x="-5.5">hsa-miR-30a-5p</text></g>
<g id="E20" class="g l" transform="rotate(-70)translate(-118)"><circle r="2.7"/><text x="-5.5">ATF2</text></g>
<g id="E21" class="g l" transform="rotate(-65)translate(-118)"><circle r="2.7"/><text x="-5.5">CCNA1</text></g>
<g id="E22" class="g l" transform="rotate(-60)translate(-118)"><circle r="2.7"/><text x="-5.5">CCNE1</text></g>
<g id="E23" class="g l" transform="rotate(-55)translate(-118)"><circle r="2.7"/><text x="-5.5">CCNT1</text></g>
<g id="E24" class="g l" transform="rotate(-50)translate(-118)"><circle r="2.7"/><text x="-5.5">CDK2</text></g>
<g id="E25" class="g l" transform="rotate(-44)translate(-118)"><circle r="2.7"/><text x="-5.5">CDK9</text></g>
<g id="E26" class="g l" transform="rotate(-39)translate(-118)"><circle r="2.7"/><text x="-5.5">CDKN1C</text></g>
<g id="E27" class="g l" transform="rotate(-34)translate(-118)"><circle r="2.7"/><text x="-5.5">CLTA</text></g>
<g id="E28" class="g l" transform="rotate(-29)translate(-118)"><circle r="2.7"/><text x="-5.5">CLTC</text></g>
<g id="E29" class="g l" transform="rotate(-23)translate(-118)"><circle r="2.7"/><text x="-5.5">CREBBP</text></g>
<g id="E30" class="g l" transform="rotate(-18)translate(-118)"><circle r="2.7"/><text x="-5.5">CTDSPL2</text></g>
<g id="E31" class="g l" transform="rotate(-13)translate(-118)"><circle r="2.7"/><text x="-5.5">CXCR4</text></g>
<g id="E32" class="g l" transform="rotate(-8)translate(-118)"><circle r="2.7"/><text x="-5.5">E2F1</text></g>
<g id="E33" class="g l" transform="rotate(-3)translate(-118)"><circle r="2.7"/><text x="-5.5">E2F2</text></g>
<g id="E34" class="g l" transform="rotate(3)translate(-118)"><circle r="2.7"/><text x="-5.5">E2F3</text></g>
<g id="E35" class="g l" transform="rotate(8)translate(-118)"><circle r="2.7"/><text x="-5.5">E2F4</text></g>
<g id="E36" class="g l" transform="rotate(13)translate(-118)"><circle r="2.7"/><text x="-5.5">EP300</text></g>
<g id="E37" class="g l" transform="rotate(18)translate(-118)"><circle r="2.7"/><text x="-5.5">FLNA</text></g>
<g id="E38" class="g l" transform="rotate(23)translate(-118)"><circle r="2.7"/><text x="-5.5">FOXM1</text></g>
<g id="E39" class="g l" transform="rotate(29)translate(-118)"><circle r="2.7"/><text x="-5.5">HDAC2</text></g>
<g id="E40" class="g l" transform="rotate(34)translate(-118)"><circle r="2.7"/><text x="-5.5">HIPK2</text></g>
<g id="E41" class="g l" transform="rotate(39)translate(-118)"><circle r="2.7"/><text x="-5.5">JUN</text></g>
<g id="E42" class="g l" transform="rotate(44)translate(-118)"><circle r="2.7"/><text x="-5.5">LIN37</text></g>
<g id="E43" class="g l" transform="rotate(50)translate(-118)"><circle r="2.7"/><text x="-5.5">LIN52</text></g>
<g id="E44" class="g l" transform="rotate(55)translate(-118)"><circle r="2.7"/><text x="-5.5">LIN54</text></g>
<g id="E45" class="g l" transform="rotate(60)translate(-118)"><circle r="2.7"/><text x="-5.5">LIN9</text></g>
<g id="E46" class="g l" transform="rotate(65)translate(-118)"><circle r="2.7"/><text x="-5.5">LZTR1</text></g>
<g id="E47" class="g l" transform="rotate(70)translate(-118)"><circle r="2.7"/><text x="-5.5">MAP1LC3B</text></g>
<g id="E48" class="g l" transform="rotate(76)translate(-118)"><circle r="2.7"/><text x="-5.5">MAPK6</text></g>
<g id="E49" class="g l" transform="rotate(81)translate(-118)"><circle r="2.7"/><text x="-5.5">MYBL2</text></g>
<g id="E50" class="g" transform="rotate(-94)translate(118)"><circle r="2.7"/><text x="5.5">NLK</text></g>
<g id="E51" class="g" transform="rotate(-89)translate(118)"><circle r="2.7"/><text x="5.5">NUF2</text></g>
<g id="E52" class="g" transform="rotate(-83)translate(118)"><circle r="2.7"/><text x="5.5">PLA2G4A</text></g>
<g id="E53" class="g" transform="rotate(-78)translate(118)"><circle r="2.7"/><text x="5.5">PPP2R3C</text></g>
<g id="E54" class="g" transform="rotate(-73)translate(118)"><circle r="2.7"/><text x="5.5">RBBP4</text></g>
<g id="E55" class="g" transform="rotate(-68)translate(118)"><circle r="2.7"/><text x="5.5">RBL1</text></g>
<g id="E56" class="g" transform="rotate(-63)translate(118)"><circle r="2.7"/><text x="5.5">SKP2</text></g>
<g id="E57" class="g" transform="rotate(-57)translate(118)"><circle r="2.7"/><text x="5.5">SPTA1</text></g>
<g id="E58" class="g" transform="rotate(-52)translate(118)"><circle r="2.7"/><text x="5.5">SPTBN1</text></g>
<g id="E59" class="g" transform="rotate(-47)translate(118)"><circle r="2.7"/><text x="5.5">SUMO2</text></g>
<g id="E60" class="g" transform="rotate(-42)translate(118)"><circle r="2.7"/><text x="5.5">TEAD2</text></g>
<g id="E61" class="g" transform="rotate(-37)translate(118)"><circle r="2.7"/><text x="5.5">TRIM15</text></g>
<g id="E62" class="g" transform="rotate(-31)translate(118)"><circle r="2.7"/><text x="5.5">TTF2</text></g>
<g id="E63" class="g" transform="rotate(-26)translate(118)"><circle r="2.7"/><text x="5.5">UBE2D4</text></g>
<g id="E64" class="g" transform="rotate(-21)translate(118)"><circle r="2.7"/><text x="5.5">ZBTB9</text></g>
<g id="E65" class="g" transform="rotate(-16)translate(118)"><circle r="2.7"/><text x="5.5">ZNF622</text></g>
<g id="E66" class="g" transform="rotate(-10)translate(118)"><circle r="2.7"/><text x="5.5">ZSCAN26</text></g>
<g id="E-hub" class="hub" transform="translate(118)rotate(-8)"><circle r="4.8"/><text x="8">MYBL2</text></g>
</g>

<!-- Panel C -->
<g id="panelC" transform="translate(882,150)rotate(3)">
<use id="C-edges" href="#fan" transform="scale(1.14)"/>
<g id="C-nodes" transform="scale(1.14)">
<path class="rg" stroke="#87bdcb" pathLength="90" d="M99.8 7A100 100 0 0 1 -7 99.8"/>
<path class="rg" stroke="#5848a3" pathLength="140" d="M-10.5 99.5A100 100 0 0 1 -55.9 -82.9"/>
<path class="rg" stroke="#55b83c" pathLength="118" d="M-53 -84.8A100 100 0 0 1 99.8 -7"/>
</g>
<g id="C-labels">
<g class="b">
<text transform="rotate(4)" x="119.5">BAALC-AS2</text><text transform="rotate(7)" x="119.5">CASC9</text><text transform="rotate(10)" x="119.5">CRNDE</text><text transform="rotate(13)" x="119.5">DLEU1</text><text transform="rotate(16)" x="119.5">DLX6-AS1</text><text transform="rotate(19)" x="119.5">FAM83H-AS1</text><text transform="rotate(22)" x="119.5">FOXD2-AS1</text><text transform="rotate(25)" x="119.5">HAGLR</text><text transform="rotate(28)" x="119.5">HCG18</text><text transform="rotate(31)" x="119.5">HOTAIR</text><text transform="rotate(34)" x="119.5">HOXA-AS2</text><text transform="rotate(37)" x="119.5">KCNQ1OT1</text><text transform="rotate(40)" x="119.5">LINC00152</text><text transform="rotate(43)" x="119.5">LINC00511</text><text transform="rotate(46)" x="119.5">LINC00665</text><text transform="rotate(49)" x="119.5">LINC01224</text><text transform="rotate(52)" x="119.5">LINC01234</text><text transform="rotate(55)" x="119.5">LUCAT1</text><text transform="rotate(58)" x="119.5">MAFG-AS1</text><text transform="rotate(61)" x="119.5">MIR17HG</text><text transform="rotate(64)" x="119.5">MIR4435-2HG</text><text transform="rotate(67)" x="119.5">NEAT1</text><text transform="rotate(70)" x="119.5">NUTM2A-AS1</text><text transform="rotate(73)" x="119.5">OIP5-AS1</text><text transform="rotate(76)" x="119.5">PVT1</text><text transform="rotate(79)" x="119.5">SNHG1</text><text transform="rotate(82)" x="119.5">SNHG6</text><text transform="rotate(85)" x="119.5">SNHG15</text>
</g>
<g class="b l"><text transform="rotate(-92)" x="-119.5">TMPO-AS1</text><text transform="rotate(-89)" x="-119.5">TUG1</text><text transform="rotate(-86)" x="-119.5">XIST</text></g>
<g class="p l">
<text transform="rotate(-83)" x="-119.5">hsa-miR-548c-5p</text><text transform="rotate(-80)" x="-119.5">hsa-miR-548d-5p</text><text transform="rotate(-77)" x="-119.5">hsa-miR-548h-5p</text><text transform="rotate(-74)" x="-119.5">hsa-miR-548i</text><text transform="rotate(-71)" x="-119.5">hsa-miR-548o-5p</text><text transform="rotate(-68)" x="-119.5">hsa-miR-548w</text><text transform="rotate(-65)" x="-119.5">hsa-miR-548y</text><text transform="rotate(-62)" x="-119.5">hsa-miR-559</text><text transform="rotate(-59)" x="-119.5">hsa-miR-570-3p</text><text transform="rotate(-56)" x="-119.5">hsa-miR-590-3p</text><text transform="rotate(-53)" x="-119.5">hsa-miR-607</text><text transform="rotate(-50)" x="-119.5">hsa-miR-616-5p</text><text transform="rotate(-47)" x="-119.5">hsa-miR-1323</text><text transform="rotate(-44)" x="-119.5">hsa-miR-3163</text><text transform="rotate(-41)" x="-119.5">hsa-miR-3609</text><text transform="rotate(-38)" x="-119.5">hsa-miR-3662</text><text transform="rotate(-35)" x="-119.5">hsa-miR-4310</text><text transform="rotate(-32)" x="-119.5">hsa-miR-4317</text><text transform="rotate(-29)" x="-119.5">hsa-miR-4435</text><text transform="rotate(-26)" x="-119.5">hsa-miR-4662a-5p</text><text transform="rotate(-23)" x="-119.5">hsa-miR-4803</text><text transform="rotate(-20)" x="-119.5">hsa-miR-5011-5p</text><text transform="rotate(-17)" x="-119.5">hsa-miR-5480-3p</text><text transform="rotate(-14)" x="-119.5">hsa-miR-5582-5p</text><text transform="rotate(-11)" x="-119.5">hsa-miR-5688</text><text transform="rotate(-8)" x="-119.5">hsa-miR-5692a</text><text transform="rotate(-5)" x="-119.5">hsa-miR-6083</text><text transform="rotate(-2)" x="-119.5">hsa-miR-6866-3p</text><text transform="rotate(1)" x="-119.5">hsa-miR-7106-5p</text><text transform="rotate(4)" x="-119.5">hsa-miR-7162-3p</text><text transform="rotate(7)" x="-119.5">hsa-miR-8485</text><text transform="rotate(10)" x="-119.5">hsa-miR-9-5p</text><text transform="rotate(13)" x="-119.5">hsa-miR-17-5p</text><text transform="rotate(16)" x="-119.5">hsa-miR-20a-5p</text><text transform="rotate(19)" x="-119.5">hsa-miR-20b-5p</text><text transform="rotate(22)" x="-119.5">hsa-miR-93-5p</text><text transform="rotate(25)" x="-119.5">hsa-miR-106a-5p</text><text transform="rotate(28)" x="-119.5">hsa-miR-106b-5p</text><text transform="rotate(31)" x="-119.5">hsa-miR-122-5p</text><text transform="rotate(34)" x="-119.5">hsa-miR-181a-5p</text><text transform="rotate(37)" x="-119.5">hsa-miR-186-5p</text><text transform="rotate(40)" x="-119.5">hsa-miR-200a-3p</text><text transform="rotate(43)" x="-119.5">hsa-miR-302a-3p</text><text transform="rotate(46)" x="-119.5">hsa-miR-325</text><text transform="rotate(49)" x="-119.5">hsa-miR-372-3p</text><text transform="rotate(52)" x="-119.5">hsa-miR-373-3p</text><text transform="rotate(55)" x="-119.5">hsa-miR-519d-3p</text>
</g>
<g class="g">
<g class="l"><text transform="rotate(58)" x="-119.5">AURKA</text><text transform="rotate(61)" x="-119.5">AURKB</text><text transform="rotate(64)" x="-119.5">BIRC5</text><text transform="rotate(67)" x="-119.5">BUB1</text><text transform="rotate(70)" x="-119.5">BUB1B</text><text transform="rotate(73)" x="-119.5">CCNA2</text><text transform="rotate(76)" x="-119.5">CCNB1</text><text transform="rotate(79)" x="-119.5">CDC20</text><text transform="rotate(82)" x="-119.5">CDCA8</text><text transform="rotate(85)" x="-119.5">CDK1</text></g>
<text transform="rotate(-92)" x="119.5">CENPA</text><text transform="rotate(-89)" x="119.5">CENPE</text><text transform="rotate(-86)" x="119.5">CENPF</text><text transform="rotate(-83)" x="119.5">CKAP5</text><text transform="rotate(-80)" x="119.5">ESPL1</text><text transform="rotate(-77)" x="119.5">HDAC3</text><text transform="rotate(-74)" x="119.5">INCENP</text><text transform="rotate(-71)" x="119.5">KIF11</text><text transform="rotate(-68)" x="119.5">KIF18A</text><text transform="rotate(-65)" x="119.5">KIF18B</text><text transform="rotate(-62)" x="119.5">KIF20A</text><text transform="rotate(-59)" x="119.5">KIF23</text><text transform="rotate(-56)" x="119.5">KIF4A</text><text transform="rotate(-53)" x="119.5">KNSTRN</text><text transform="rotate(-50)" x="119.5">MAD2L1</text><text transform="rotate(-47)" x="119.5">MAPRE1</text><text transform="rotate(-44)" x="119.5">MCM2</text><text transform="rotate(-41)" x="119.5">NDC80</text><text transform="rotate(-38)" x="119.5">NUF2</text><text transform="rotate(-35)" x="119.5">PLK1</text><text transform="rotate(-32)" x="119.5">PRC1</text><text transform="rotate(-29)" x="119.5">RACGAP1</text><text transform="rotate(-26)" x="119.5">SKA1</text><text transform="rotate(-23)" x="119.5">SPC25</text><text transform="rotate(-20)" x="119.5">SGO1</text><text transform="rotate(-17)" x="119.5">TOP2A</text><text transform="rotate(-14)" x="119.5">TPX2</text><text transform="rotate(-11)" x="119.5">TTK</text><text transform="rotate(-8)" x="119.5">UBC</text><text transform="rotate(-5)" x="119.5">ZWINT</text>
</g>
</g>
<g id="C-hub" class="hub" transform="translate(114)rotate(-3)"><circle r="4.8"/><text x="8">KIF2C</text></g>
</g>

<!-- Panel D -->
<g id="panelD" transform="translate(183,530)rotate(4)">
<use id="D-edges" href="#fan" transform="scale(1.13)"/>
<g id="D-nodes" transform="scale(1.13)">
<path class="rg" stroke="#87bdcb" pathLength="172" d="M99.8 7A100 100 0 0 1 -99.8 7"/>
<path class="rg" stroke="#5848a3" pathLength="178" d="M-99.9 3.5A100 100 0 0 1 99.8 -7"/>
</g>
<g id="D-labels">
<g class="b">
<text transform="rotate(4)" x="118.5">BAALC-AS2</text><text transform="rotate(7)" x="118.5">C1orf220</text><text transform="rotate(10)" x="118.5">CASC15</text><text transform="rotate(13)" x="118.5">CRNDE</text><text transform="rotate(16)" x="118.5">DANCR</text><text transform="rotate(19)" x="118.5">DLGAP1-AS1</text><text transform="rotate(22)" x="118.5">DLX6-AS1</text><text transform="rotate(25)" x="118.5">ELFN1-AS1</text><text transform="rotate(28)" x="118.5">FAM201A</text><text transform="rotate(31)" x="118.5">FAM230B</text><text transform="rotate(34)" x="118.5">FENDRR</text><text transform="rotate(37)" x="118.5">FGD5-AS1</text><text transform="rotate(40)" x="118.5">FTX</text><text transform="rotate(43)" x="118.5">GAS5</text><text transform="rotate(46)" x="118.5">H19</text><text transform="rotate(49)" x="118.5">HCG11</text><text transform="rotate(52)" x="118.5">HOTAIRM1</text><text transform="rotate(55)" x="118.5">HULC</text><text transform="rotate(58)" x="118.5">KCNQ1OT1</text><text transform="rotate(61)" x="118.5">LINC00094</text><text transform="rotate(64)" x="118.5">LINC00173</text><text transform="rotate(67)" x="118.5">LINC00261</text><text transform="rotate(70)" x="118.5">LINC00460</text><text transform="rotate(73)" x="118.5">LINC00473</text><text transform="rotate(76)" x="118.5">LINC00662</text><text transform="rotate(79)" x="118.5">LINC00839</text><text transform="rotate(82)" x="118.5">LINC01133</text><text transform="rotate(85)" x="118.5">LINC01296</text>
<g class="l"><text transform="rotate(-92)" x="-118.5">LINC01419</text><text transform="rotate(-89)" x="-118.5">LINC01503</text><text transform="rotate(-86)" x="-118.5">LINC01554</text><text transform="rotate(-83)" x="-118.5">LOC100288123</text><text transform="rotate(-80)" x="-118.5">LOC284454</text><text transform="rotate(-77)" x="-118.5">LOC286083</text><text transform="rotate(-74)" x="-118.5">MALAT1</text><text transform="rotate(-71)" x="-118.5">MCM3AP-AS1</text><text transform="rotate(-68)" x="-118.5">MEG3</text><text transform="rotate(-65)" x="-118.5">MIAT</text><text transform="rotate(-62)" x="-118.5">MIR210HG</text><text transform="rotate(-59)" x="-118.5">MIR22HG</text><text transform="rotate(-56)" x="-118.5">MNX1-AS1</text><text transform="rotate(-53)" x="-118.5">NEAT1</text><text transform="rotate(-50)" x="-118.5">NORAD</text><text transform="rotate(-47)" x="-118.5">NR2F1-AS1</text><text transform="rotate(-44)" x="-118.5">OIP5-AS1</text><text transform="rotate(-41)" x="-118.5">PCAT6</text><text transform="rotate(-38)" x="-118.5">PRNCR1</text><text transform="rotate(-35)" x="-118.5">PVT1</text><text transform="rotate(-32)" x="-118.5">RHPN1-AS1</text><text transform="rotate(-29)" x="-118.5">SBF2-AS1</text><text transform="rotate(-26)" x="-118.5">SNHG1</text><text transform="rotate(-23)" x="-118.5">SNHG5</text><text transform="rotate(-20)" x="-118.5">SNHG7</text><text transform="rotate(-17)" x="-118.5">SNHG12</text><text transform="rotate(-14)" x="-118.5">SNHG16</text><text transform="rotate(-11)" x="-118.5">TP73-AS1</text><text transform="rotate(-8)" x="-118.5">UCA1</text><text transform="rotate(-5)" x="-118.5">ZFAS1</text></g>
</g>
<g class="p">
<g class="l"><text transform="rotate(-2)" x="-118.5">hsa-miR-9-5p</text><text transform="rotate(1)" x="-118.5">hsa-miR-15a-5p</text><text transform="rotate(4)" x="-118.5">hsa-miR-16-5p</text><text transform="rotate(7)" x="-118.5">hsa-miR-17-5p</text><text transform="rotate(10)" x="-118.5">hsa-miR-19a-3p</text><text transform="rotate(13)" x="-118.5">hsa-miR-20a-5p</text><text transform="rotate(16)" x="-118.5">hsa-miR-92a-3p</text><text transform="rotate(19)" x="-118.5">hsa-miR-93-5p</text><text transform="rotate(22)" x="-118.5">hsa-let-7a-5p</text><text transform="rotate(25)" x="-118.5">hsa-let-7b-5p</text><text transform="rotate(28)" x="-118.5">hsa-let-7c-5p</text><text transform="rotate(31)" x="-118.5">hsa-let-7e-5p</text><text transform="rotate(34)" x="-118.5">hsa-let-7i-5p</text><text transform="rotate(37)" x="-118.5">hsa-miR-98-5p</text><text transform="rotate(40)" x="-118.5">hsa-miR-101-3p</text><text transform="rotate(43)" x="-118.5">hsa-miR-106b-5p</text><text transform="rotate(46)" x="-118.5">hsa-miR-124-3p</text><text transform="rotate(49)" x="-118.5">hsa-miR-130a-3p</text><text transform="rotate(52)" x="-118.5">hsa-miR-137</text><text transform="rotate(55)" x="-118.5">hsa-miR-145-5p</text><text transform="rotate(58)" x="-118.5">hsa-miR-155-5p</text><text transform="rotate(61)" x="-118.5">hsa-miR-182-5p</text><text transform="rotate(64)" x="-118.5">hsa-miR-186-5p</text><text transform="rotate(67)" x="-118.5">hsa-miR-195-5p</text><text transform="rotate(70)" x="-118.5">hsa-miR-200c-3p</text><text transform="rotate(73)" x="-118.5">hsa-miR-216a-5p</text><text transform="rotate(76)" x="-118.5">hsa-miR-223-3p</text><text transform="rotate(79)" x="-118.5">hsa-miR-26a-5p</text><text transform="rotate(82)" x="-118.5">hsa-miR-27b-3p</text><text transform="rotate(85)" x="-118.5">hsa-miR-29c-3p</text></g>
<text transform="rotate(-92)" x="118.5">hsa-miR-300</text><text transform="rotate(-89)" x="118.5">hsa-miR-302b-3p</text><text transform="rotate(-86)" x="118.5">hsa-miR-320a</text><text transform="rotate(-83)" x="118.5">hsa-miR-340-5p</text><text transform="rotate(-80)" x="118.5">hsa-miR-361-3p</text><text transform="rotate(-77)" x="118.5">hsa-miR-374a-5p</text><text transform="rotate(-74)" x="118.5">hsa-miR-381-3p</text><text transform="rotate(-71)" x="118.5">hsa-miR-410-3p</text><text transform="rotate(-68)" x="118.5">hsa-miR-424-5p</text><text transform="rotate(-65)" x="118.5">hsa-miR-455-3p</text><text transform="rotate(-62)" x="118.5">hsa-miR-495-3p</text><text transform="rotate(-59)" x="118.5">hsa-miR-497-5p</text><text transform="rotate(-56)" x="118.5">hsa-miR-506-3p</text><text transform="rotate(-53)" x="118.5">hsa-miR-539-5p</text><text transform="rotate(-50)" x="118.5">hsa-miR-5481</text><text transform="rotate(-47)" x="118.5">hsa-miR-589-5p</text><text transform="rotate(-44)" x="118.5">hsa-miR-6809-3p</text><text transform="rotate(-41)" x="118.5">hsa-miR-2116-5p</text><text transform="rotate(-38)" x="118.5">hsa-miR-3065-5p</text><text transform="rotate(-35)" x="118.5">hsa-miR-3182</text><text transform="rotate(-32)" x="118.5">hsa-miR-8072</text><text transform="rotate(-29)" x="118.5">hsa-miR-3617-5p</text><text transform="rotate(-26)" x="118.5">hsa-miR-4787-3p</text><text transform="rotate(-23)" x="118.5">hsa-miR-1304-3p</text><text transform="rotate(-20)" x="118.5">hsa-miR-1281</text><text transform="rotate(-17)" x="118.5">hsa-miR-1203</text><text transform="rotate(-14)" x="118.5">hsa-miR-4485-5p</text><text transform="rotate(-11)" x="118.5">hsa-miR-6736-5p</text><text transform="rotate(-8)" x="118.5">hsa-miR-6860-3p</text><text transform="rotate(-5)" x="118.5">hsa-miR-6808-5p</text>
</g>
</g>
<g id="D-hub" class="hub" transform="translate(113)rotate(-4)"><circle r="4.8"/><text x="8">KPNA2</text></g>
</g>

<!-- Panel F -->
<g id="panelF" transform="translate(893,530)rotate(4)">
<use id="F-edges" href="#fan" transform="scale(1.14)"/>
<g id="F-nodes" transform="scale(1.14)">
<path class="rg" stroke="#87bdcb" pathLength="286" d="M99.8 7A100 100 0 1 1 34.2 -94"/>
<circle cx="37.5" cy="-92.7" r="2.4" fill="#5848a3"/>
<path class="rg" stroke="#55b83c" pathLength="62" d="M40.7 -91.4A100 100 0 0 1 99.8 -7"/>
</g>
<g id="F-labels">
<g class="b">
<text transform="rotate(4)" x="119.5">ARHGAP5-AS1</text><text transform="rotate(7)" x="119.5">C1orf220</text><text transform="rotate(10)" x="119.5">CASC9</text><text transform="rotate(13)" x="119.5">CRNDE</text><text transform="rotate(16)" x="119.5">DLGAP1-AS1</text><text transform="rotate(19)" x="119.5">DLX6-AS1</text><text transform="rotate(22)" x="119.5">DSCAM-AS1</text><text transform="rotate(25)" x="119.5">ELFN1-AS1</text><text transform="rotate(28)" x="119.5">FAM225A</text><text transform="rotate(31)" x="119.5">FGD5-AS1</text><text transform="rotate(34)" x="119.5">GAS6-AS1</text><text transform="rotate(37)" x="119.5">HAND2-AS1</text><text transform="rotate(40)" x="119.5">HCP5</text><text transform="rotate(43)" x="119.5">HOXA11-AS</text><text transform="rotate(46)" x="119.5">ITGB1-DT</text><text transform="rotate(49)" x="119.5">KCNQ1OT1</text><text transform="rotate(52)" x="119.5">LINC00028</text><text transform="rotate(55)" x="119.5">LINC00092</text><text transform="rotate(58)" x="119.5">LINC00152</text><text transform="rotate(61)" x="119.5">LINC00174</text><text transform="rotate(64)" x="119.5">LINC00205</text><text transform="rotate(67)" x="119.5">LINC00261</text><text transform="rotate(70)" x="119.5">LINC00324</text><text transform="rotate(73)" x="119.5">LINC00339</text><text transform="rotate(76)" x="119.5">LINC00467</text><text transform="rotate(79)" x="119.5">LINC00511</text><text transform="rotate(82)" x="119.5">LINC00622</text><text transform="rotate(85)" x="119.5">LINC00665</text>
<g class="l"><text transform="rotate(-92)" x="-119.5">LINC00667</text><text transform="rotate(-89)" x="-119.5">LINC00858</text><text transform="rotate(-86)" x="-119.5">LINC00886</text><text transform="rotate(-83)" x="-119.5">LINC00968</text><text transform="rotate(-80)" x="-119.5">LINC01094</text><text transform="rotate(-77)" x="-119.5">LINC01133</text><text transform="rotate(-74)" x="-119.5">LINC01138</text><text transform="rotate(-71)" x="-119.5">LINC01184</text><text transform="rotate(-68)" x="-119.5">LINC01234</text><text transform="rotate(-65)" x="-119.5">LINC01296</text><text transform="rotate(-62)" x="-119.5">LINC01419</text><text transform="rotate(-59)" x="-119.5">LINC01503</text><text transform="rotate(-56)" x="-119.5">LINC01535</text><text transform="rotate(-53)" x="-119.5">LINC01559</text><text transform="rotate(-50)" x="-119.5">LINC01567</text><text transform="rotate(-47)" x="-119.5">LINC01605</text><text transform="rotate(-44)" x="-119.5">LINC01614</text><text transform="rotate(-41)" x="-119.5">LINC01711</text><text transform="rotate(-38)" x="-119.5">LINC02167</text><text transform="rotate(-35)" x="-119.5">LINC02273</text><text transform="rotate(-32)" x="-119.5">LINC02418</text><text transform="rotate(-29)" x="-119.5">LOC100130476</text><text transform="rotate(-26)" x="-119.5">LOC100133669</text><text transform="rotate(-23)" x="-119.5">LOC100288798</text><text transform="rotate(-20)" x="-119.5">LOC100506860</text><text transform="rotate(-17)" x="-119.5">LOC100996580</text><text transform="rotate(-14)" x="-119.5">LOC101927156</text><text transform="rotate(-11)" x="-119.5">LOC101928738</text><text transform="rotate(-8)" x="-119.5">LOC101929719</text><text transform="rotate(-5)" x="-119.5">LOC148413</text><text transform="rotate(-2)" x="-119.5">LOC148696</text><text transform="rotate(1)" x="-119.5">LOC153684</text><text transform="rotate(4)" x="-119.5">LOC283335</text><text transform="rotate(7)" x="-119.5">LOC284454</text><text transform="rotate(10)" x="-119.5">LOC389641</text><text transform="rotate(13)" x="-119.5">LOC440434</text><text transform="rotate(16)" x="-119.5">LOC729732</text><text transform="rotate(19)" x="-119.5">LRRC75A-AS1</text><text transform="rotate(22)" x="-119.5">MBNL1-AS1</text><text transform="rotate(25)" x="-119.5">MCM3AP-AS1</text><text transform="rotate(28)" x="-119.5">MIR4435-2HG</text><text transform="rotate(31)" x="-119.5">MIR503HG</text><text transform="rotate(34)" x="-119.5">MKLN1-AS</text><text transform="rotate(37)" x="-119.5">NEAT1</text><text transform="rotate(40)" x="-119.5">NORAD</text><text transform="rotate(43)" x="-119.5">NR2F1-AS1</text><text transform="rotate(46)" x="-119.5">NUTM2A-AS1</text><text transform="rotate(49)" x="-119.5">OIP5-AS1</text><text transform="rotate(52)" x="-119.5">PART1</text><text transform="rotate(55)" x="-119.5">PCAT1</text><text transform="rotate(58)" x="-119.5">PRNCR1</text><text transform="rotate(61)" x="-119.5">PVT1</text><text transform="rotate(64)" x="-119.5">RUSC1-AS1</text><text transform="rotate(67)" x="-119.5">SLC16A1-AS1</text><text transform="rotate(70)" x="-119.5">SNHG1</text><text transform="rotate(73)" x="-119.5">SNHG3</text><text transform="rotate(76)" x="-119.5">SNHG5</text><text transform="rotate(79)" x="-119.5">SNHG8</text><text transform="rotate(82)" x="-119.5">SNHG12</text><text transform="rotate(85)" x="-119.5">SNHG15</text></g>
<text transform="rotate(-92)" x="119.5">SNHG17</text><text transform="rotate(-89)" x="119.5">SNHG20</text><text transform="rotate(-86)" x="119.5">TMPO-AS1</text><text transform="rotate(-83)" x="119.5">TP73-AS1</text><text transform="rotate(-80)" x="119.5">TUG1</text><text transform="rotate(-77)" x="119.5">UCA1</text><text transform="rotate(-74)" x="119.5">XIST</text><text transform="rotate(-71)" x="119.5">ZFAS1</text>
</g>
<g class="g">
<text transform="rotate(-65)" x="119.5">AURKA</text><text transform="rotate(-62)" x="119.5">AURKB</text><text transform="rotate(-59)" x="119.5">BRCA1</text><text transform="rotate(-56)" x="119.5">CHEK1</text><text transform="rotate(-53)" x="119.5">CLTC</text><text transform="rotate(-50)" x="119.5">DYNLL1</text><text transform="rotate(-47)" x="119.5">E2F1</text><text transform="rotate(-44)" x="119.5">GTSE1</text><text transform="rotate(-41)" x="119.5">HMMR</text><text transform="rotate(-38)" x="119.5">JUN</text><text transform="rotate(-35)" x="119.5">KIF11</text><text transform="rotate(-32)" x="119.5">KPNA2</text><text transform="rotate(-29)" x="119.5">MAPK1</text><text transform="rotate(-26)" x="119.5">MNT</text><text transform="rotate(-23)" x="119.5">NAP1L1</text><text transform="rotate(-20)" x="119.5">NCK1</text><text transform="rotate(-17)" x="119.5">PIK3R1</text><text transform="rotate(-14)" x="119.5">RBPJ</text><text transform="rotate(-11)" x="119.5">SAP130</text><text transform="rotate(-8)" x="119.5">SIAH2</text><text transform="rotate(-5)" x="119.5">THAP11</text>
</g>
</g>
<g id="F-mir" class="p"><text transform="rotate(-68)" x="119.5">hsa-miR-490-3p</text></g>
<g id="F-hub" class="hub" transform="translate(114)rotate(-4)"><circle r="4.8"/><text x="8">TPX2</text></g>
</g>

<!-- Panel G -->
<g id="panelG" transform="translate(188,850)rotate(2)">
<use id="G-edges" href="#fan" transform="scale(1.14)"/>
<g id="G-nodes" transform="scale(1.14)">
<path class="rg" stroke="#87bdcb" pathLength="82" d="M99.8 7A100 100 0 0 1 7 99.8"/>
<path class="rg" stroke="#5848a3" pathLength="8" d="M3.5 99.9A100 100 0 0 1 -10.5 99.5"/>
<path class="rg" stroke="#55b83c" pathLength="258" d="M-13.9 99A100 100 0 1 1 99.8 -7"/>
</g>
<g id="G-labels">
<g class="b">
<text transform="rotate(4)" x="119.5">C1orf172</text><text transform="rotate(7)" x="119.5">CASC15</text><text transform="rotate(10)" x="119.5">CDKN2B-AS1</text><text transform="rotate(13)" x="119.5">DLEU2</text><text transform="rotate(16)" x="119.5">DNM3OS</text><text transform="rotate(19)" x="119.5">EPB41L4A-AS2</text><text transform="rotate(22)" x="119.5">FAM66C</text><text transform="rotate(25)" x="119.5">FOXD2-AS1</text><text transform="rotate(28)" x="119.5">GAS5</text><text transform="rotate(31)" x="119.5">HOTAIRM1</text><text transform="rotate(34)" x="119.5">KCNQ1OT1</text><text transform="rotate(37)" x="119.5">LINC00152</text><text transform="rotate(40)" x="119.5">LINC00473</text><text transform="rotate(43)" x="119.5">LINC00662</text><text transform="rotate(46)" x="119.5">LINC01234</text><text transform="rotate(49)" x="119.5">MAGI2-AS3</text><text transform="rotate(52)" x="119.5">MALAT1</text><text transform="rotate(55)" x="119.5">MIR17HG</text><text transform="rotate(58)" x="119.5">NEAT1</text><text transform="rotate(61)" x="119.5">NUTM2B-AS1</text><text transform="rotate(64)" x="119.5">OIP5-AS1</text><text transform="rotate(67)" x="119.5">PCAT6</text><text transform="rotate(70)" x="119.5">SNHG1</text><text transform="rotate(73)" x="119.5">SNHG5</text><text transform="rotate(76)" x="119.5">SNHG16</text><text transform="rotate(79)" x="119.5">TUG1</text><text transform="rotate(82)" x="119.5">XIST</text><text transform="rotate(85)" x="119.5">ZFAS1</text>
</g>
<g class="g">
<g class="l"><text transform="rotate(-83)" x="-119.5">ACTB</text><text transform="rotate(-80)" x="-119.5">ADAR</text><text transform="rotate(-77)" x="-119.5">AHNAK</text><text transform="rotate(-74)" x="-119.5">ALYREF</text><text transform="rotate(-71)" x="-119.5">ANLN</text><text transform="rotate(-68)" x="-119.5">ATXN2L</text><text transform="rotate(-65)" x="-119.5">BMS1</text><text transform="rotate(-62)" x="-119.5">BOP1</text><text transform="rotate(-59)" x="-119.5">BRIX1</text><text transform="rotate(-56)" x="-119.5">BYSL</text><text transform="rotate(-53)" x="-119.5">CCDC86</text><text transform="rotate(-50)" x="-119.5">CEBPZ</text><text transform="rotate(-47)" x="-119.5">CHD4</text><text transform="rotate(-44)" x="-119.5">COIL</text><text transform="rotate(-41)" x="-119.5">COMMD1</text><text transform="rotate(-38)" x="-119.5">CSNK2A1</text><text transform="rotate(-35)" x="-119.5">DDX10</text><text transform="rotate(-32)" x="-119.5">DDX18</text><text transform="rotate(-29)" x="-119.5">DDX21</text><text transform="rotate(-26)" x="-119.5">DDX24</text><text transform="rotate(-23)" x="-119.5">DDX27</text><text transform="rotate(-20)" x="-119.5">DDX47</text><text transform="rotate(-17)" x="-119.5">DDX51</text><text transform="rotate(-14)" x="-119.5">DDX52</text><text transform="rotate(-11)" x="-119.5">DDX56</text><text transform="rotate(-8)" x="-119.5">DHX15</text><text transform="rotate(-5)" x="-119.5">DHX37</text><text transform="rotate(-2)" x="-119.5">DIMT1</text><text transform="rotate(1)" x="-119.5">DKC1</text><text transform="rotate(4)" x="-119.5">EBNA1BP2</text><text transform="rotate(7)" x="-119.5">EIF4A3</text><text transform="rotate(10)" x="-119.5">ESF1</text><text transform="rotate(13)" x="-119.5">EXOSC10</text><text transform="rotate(16)" x="-119.5">FBLL1</text><text transform="rotate(19)" x="-119.5">FTSJ3</text><text transform="rotate(22)" x="-119.5">GAR1</text><text transform="rotate(25)" x="-119.5">GEMIN4</text><text transform="rotate(28)" x="-119.5">GNL2</text><text transform="rotate(31)" x="-119.5">GNL3</text><text transform="rotate(34)" x="-119.5">GTPBP4</text><text transform="rotate(37)" x="-119.5">HEATR1</text><text transform="rotate(40)" x="-119.5">HEXIM1</text><text transform="rotate(43)" x="-119.5">HNRNPA1</text><text transform="rotate(46)" x="-119.5">HNRNPC</text><text transform="rotate(49)" x="-119.5">HNRNPU</text><text transform="rotate(52)" x="-119.5">IMP3</text><text transform="rotate(55)" x="-119.5">IMP4</text><text transform="rotate(58)" x="-119.5">KRR1</text><text transform="rotate(61)" x="-119.5">LAS1L</text><text transform="rotate(64)" x="-119.5">LYAR</text><text transform="rotate(67)" x="-119.5">MKI67</text><text transform="rotate(70)" x="-119.5">MPHOSPH10</text><text transform="rotate(73)" x="-119.5">MYBBP1A</text><text transform="rotate(76)" x="-119.5">NAT10</text><text transform="rotate(79)" x="-119.5">NCL</text><text transform="rotate(82)" x="-119.5">NHP2</text><text transform="rotate(85)" x="-119.5">NIFK</text></g>
<text transform="rotate(-92)" x="119.5">NOC2L</text><text transform="rotate(-89)" x="119.5">NOC3L</text><text transform="rotate(-86)" x="119.5">NOL6</text><text transform="rotate(-83)" x="119.5">NOL11</text><text transform="rotate(-80)" x="119.5">NOP14</text><text transform="rotate(-77)" x="119.5">NOP2</text><text transform="rotate(-74)" x="119.5">NOP56</text><text transform="rotate(-71)" x="119.5">NOP58</text><text transform="rotate(-68)" x="119.5">NPM1</text><text transform="rotate(-65)" x="119.5">NSA2</text><text transform="rotate(-62)" x="119.5">PES1</text><text transform="rotate(-59)" x="119.5">PNO1</text><text transform="rotate(-56)" x="119.5">POLR1A</text><text transform="rotate(-53)" x="119.5">PWP2</text><text transform="rotate(-50)" x="119.5">RBM28</text><text transform="rotate(-47)" x="119.5">RPL5</text><text transform="rotate(-44)" x="119.5">RRP9</text><text transform="rotate(-41)" x="119.5">RRP12</text><text transform="rotate(-38)" x="119.5">RRS1</text><text transform="rotate(-35)" x="119.5">SNU13</text><text transform="rotate(-32)" x="119.5">SRP14</text><text transform="rotate(-29)" x="119.5">SURF6</text><text transform="rotate(-26)" x="119.5">TCOF1</text><text transform="rotate(-23)" x="119.5">TSR1</text><text transform="rotate(-20)" x="119.5">UTP14A</text><text transform="rotate(-17)" x="119.5">UTP15</text><text transform="rotate(-14)" x="119.5">UTP18</text><text transform="rotate(-11)" x="119.5">WDR3</text><text transform="rotate(-8)" x="119.5">WDR43</text><text transform="rotate(-5)" x="119.5">XRN2</text>
</g>
</g>
<g id="G-mir" class="p l"><text transform="rotate(-92)" x="-119.5">hsa-miR-324-5p</text><text transform="rotate(-89)" x="-119.5">hsa-miR-181b-5p</text><text transform="rotate(-86)" x="-119.5">hsa-miR-29b-3p</text></g>
<g id="G-hub" class="hub" transform="translate(114)rotate(-2)"><circle r="4.8"/><text x="8">FBL</text></g>
</g>

<g id="legend" class="leg">
<rect x="567" y="721" width="16" height="15" fill="#6b8e3d"/><text x="592" y="729">Transcription factor regulation-DNA binding</text>
<rect x="567" y="754" width="16" height="15" fill="#8fbcc8"/><text x="592" y="762">Related lncRNA</text>
<rect x="567" y="787" width="16" height="15" fill="#5a4a9e"/><text x="592" y="795">Targeted miRNA</text>
<rect x="567" y="820" width="16" height="15" fill="#6bbf4b"/><text x="592" y="828">Protein-protein interaction</text>
</g>
</svg>
